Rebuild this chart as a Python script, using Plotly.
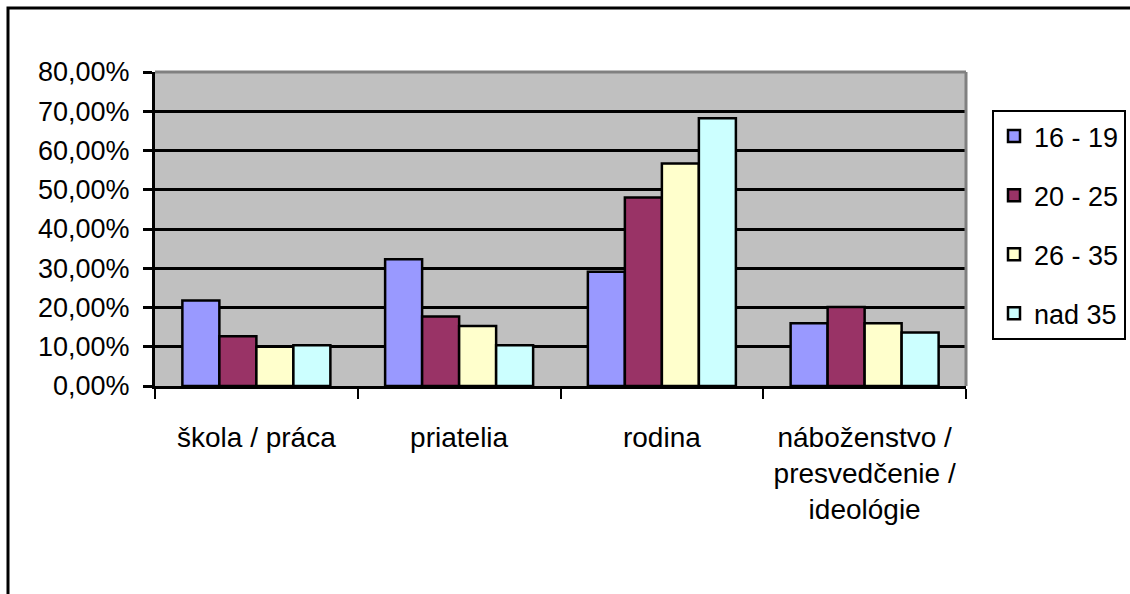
import plotly.graph_objects as go

categories = ["škola / práca", "priatelia", "rodina", "náboženstvo /<br>presvedčenie /<br>ideológie"]
series_names = ["16 - 19", "20 - 25", "26 - 35", "nad 35"]
v_16_19 = [0.218, 0.323, 0.291, 0.160]
v_20_25 = [0.127, 0.177, 0.480, 0.201]
v_26_35 = [0.100, 0.153, 0.567, 0.160]
v_nad35 = [0.104, 0.104, 0.682, 0.136]
colors = ["#9999FF", "#993366", "#FFFFCC", "#CCFFFF"]

FONT = "Liberation Sans, Arial, sans-serif"

fig = go.Figure()
for i, (name, vals) in enumerate(zip(series_names, [v_16_19, v_20_25, v_26_35, v_nad35])):
    fig.add_trace(go.Bar(
        x=categories, y=vals, name=name, legendgroup=f"g{i}",
        marker=dict(color=colors[i], line=dict(color="black", width=2.5)),
    ))

L, R, T, B = 155, 164, 72, 208
W, H = 1130, 594
pw = W - L - R
ph = H - T - B

fig.update_layout(
    width=W, height=H,
    margin=dict(l=L, r=R, t=T, b=B, pad=0, autoexpand=False),
    paper_bgcolor="white", plot_bgcolor="#C0C0C0",
    barmode="group", bargap=0.27, bargroupgap=0,
    separators=", ",
    font=dict(family=FONT, size=28, color="black"),
    showlegend=True,
    legend=dict(
        x=(992 - L) / pw, y=(T + ph - 110) / ph, xanchor="left", yanchor="top",
        bgcolor="white", bordercolor="black", borderwidth=2,
        font=dict(family=FONT, size=27, color="black"),
        tracegroupgap=21, itemwidth=30,
    ),
    xaxis=dict(
        showline=True, linecolor="black", linewidth=3,
        ticks="outside", tickson="boundaries", ticklen=10, tickwidth=2, tickcolor="black",
        showgrid=False, ticklabelstandoff=24,
        tickfont=dict(family=FONT, size=28, color="black"),
    ),
    yaxis=dict(
        range=[0, 0.8], dtick=0.1, tickformat=".2%",
        showline=True, linecolor="black", linewidth=3,
        ticks="outside", ticklen=9, tickwidth=3, tickcolor="black",
        showgrid=True, gridcolor="black", gridwidth=3, zeroline=False,
        tickfont=dict(family=FONT, size=27, color="black"),
        ticklabelstandoff=8,
    ),
    shapes=[
        dict(type="line", xref="paper", yref="paper", x0=0, x1=1, y0=1, y1=1,
             line=dict(color="#808080", width=3)),
        dict(type="line", xref="paper", yref="paper", x0=1, x1=1, y0=0, y1=1,
             line=dict(color="#808080", width=3)),
        dict(type="rect", xref="paper", yref="paper",
             x0=(8 - L) / pw, x1=3, y0=-3, y1=(T + ph - 8) / ph,
             line=dict(color="black", width=3), fillcolor="rgba(0,0,0,0)"),
    ],
)

fig.write_html(
    "out.html",
    config={"displayModeBar": False},
    post_script="document.body.style.margin='0';document.body.style.padding='0';",
)
